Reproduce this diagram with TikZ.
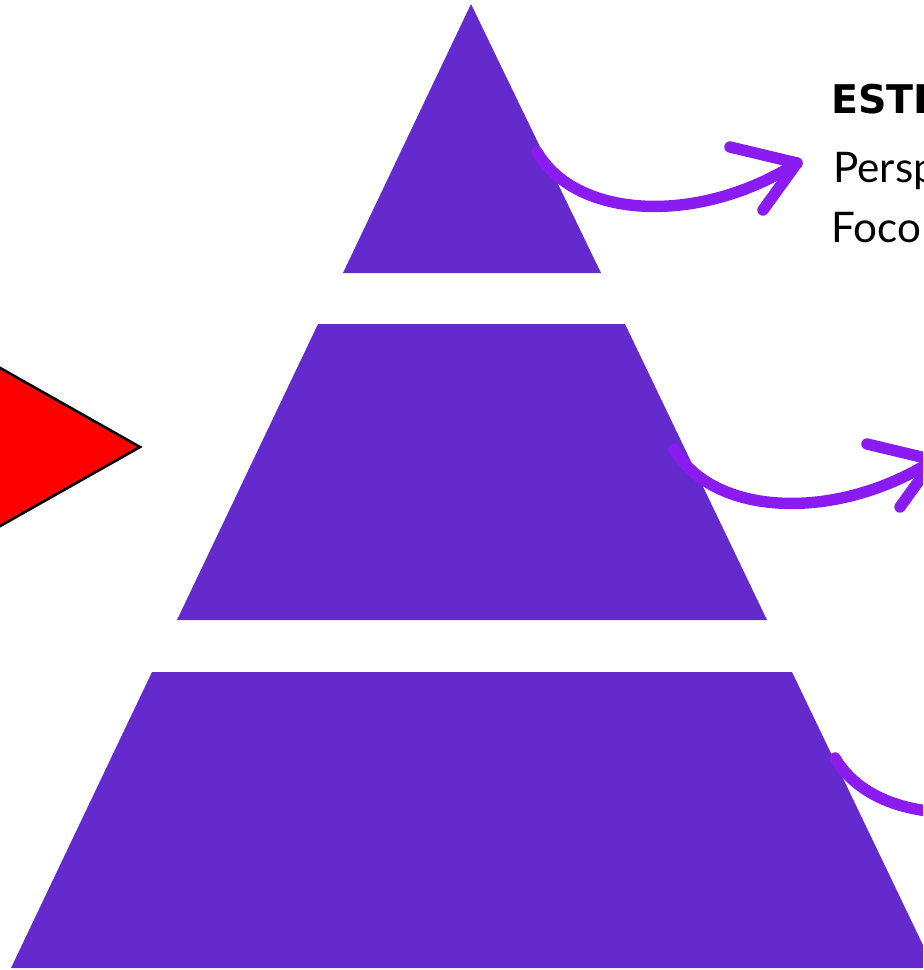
\documentclass[tikz,border=0pt]{standalone}
\usepackage{xcolor}
\usepackage{fontspec}
\setmainfont{Lato}
\newfontfamily\headfont{DejaVu Sans}
\usepackage{tikz}
\usetikzlibrary{arrows, positioning}

\definecolor{tier}{RGB}{100,42,205}
\definecolor{curl}{RGB}{138,28,242}

\begin{document}
\begin{tikzpicture}[x=0.02cm, y=-0.02cm,
			tier/.style={fill=tier, draw=none},
			curl/.style={draw=curl, line width=6.5pt, line cap=round, line join=round},
			label/.style={anchor=base west, inner sep=0pt, font=\fontsize{24}{28}\selectfont}]

			\useasboundingbox (0,0) rectangle (923,970);
			\clip (0,0) rectangle (923,970);

			% red pointer on the left
			\draw[fill=red, draw=black, line width=1.5pt] (-60,334) -- (140,447) -- (-60,560) -- cycle;

			% the three tiers
			\fill[tier] (471,4) -- (601,273) -- (343,273) -- cycle;
			\fill[tier] (318,324) -- (625,324) -- (767,620) -- (177,620) -- cycle;
			\fill[tier] (152,672) -- (792,672) -- (934,968) -- (11,968) -- cycle;

			% texts
			\node[label, font=\fontsize{22.5}{28}\selectfont\headfont\bfseries] (head) at (831,113) {ESTRATÉGICO};
			\node[label] (persp) at (833,182) {Perspectiva};
			\node[label] (foco) at (831,242) {Foco};

			% curly arrows
			\coordinate (s1) at (537,152);
			\coordinate (t1) at (797,163);
			\coordinate (s2) at (674,449);
			\coordinate (t2) at (934,460);
			\coordinate (s3) at (835,758);
			\coordinate (t3) at (1095,769);
			\draw[curl] (s1) .. controls +(40,68) and +(-97,62) .. (t1);
			\draw[curl] (t1) ++(-67,-16) -- (t1) -- ++(-34,47);
			\draw[curl] (s2) .. controls +(40,68) and +(-97,62) .. (t2);
			\draw[curl] (t2) ++(-67,-16) -- (t2) -- ++(-34,47);
			\draw[curl] (s3) .. controls +(40,68) and +(-97,62) .. (t3);
			\draw[curl] (t3) ++(-67,-16) -- (t3) -- ++(-34,47);
		\end{tikzpicture}
\end{document}
